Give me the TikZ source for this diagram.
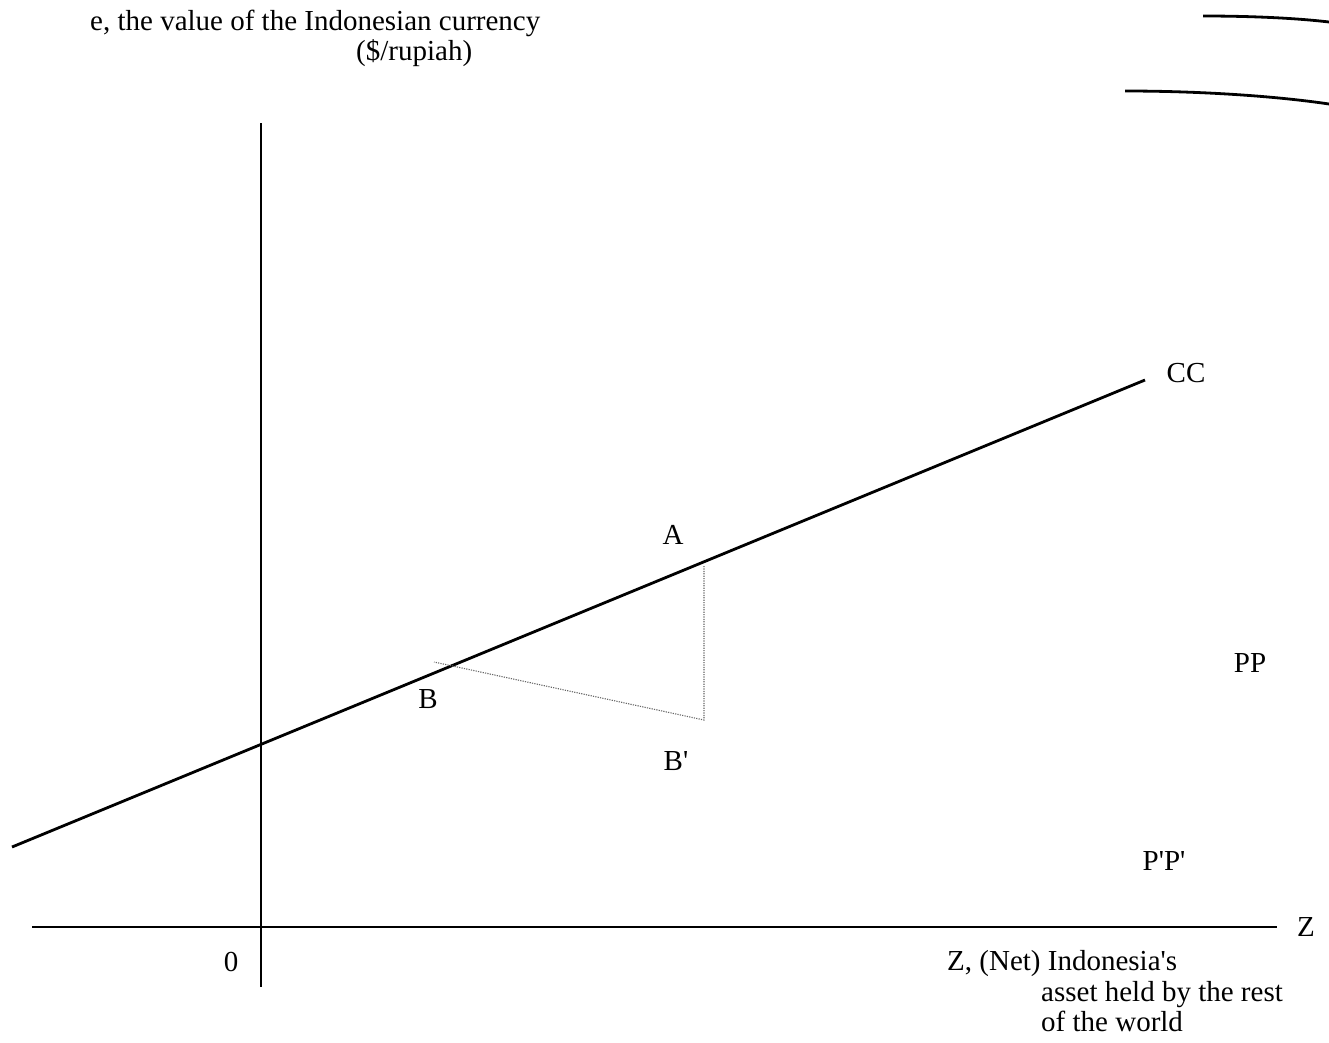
\documentclass[tikz,border=0pt]{standalone}
\usepackage{fontspec}
\setmainfont{Liberation Serif}
\newcommand{\sq}{\textquotesingle}
\begin{document}
\begin{tikzpicture}[x=1pt,y=-1pt,
  axisline/.style={line width=2.8pt},
  curveline/.style={line width=2.8pt},
  guide/.style={line width=1.1pt, gray!80!black, dash pattern=on 1.2pt off 1.2pt},
  lbl/.style={inner sep=0pt, anchor=base, font=\fontsize{29}{30}\selectfont},
  lblw/.style={inner sep=0pt, anchor=base west, font=\fontsize{29}{30}\selectfont}]
\useasboundingbox (0,0) rectangle (1329,1042);
% axes
\coordinate (ytop) at (261,123);
\coordinate (ybot) at (261,987);
\coordinate (xl) at (32,927);
\coordinate (xr) at (1277,927);
\draw[axisline] (ytop) -- (ybot);
\draw[axisline] (xl) -- (xr);
% CC line
\coordinate (cc0) at (12,847);
\coordinate (cc1) at (1145,380);
\draw[axisline] (cc0) -- (cc1);
% triangle
\coordinate (Apt) at (704,566);
\coordinate (Bp) at (704,720);
\coordinate (Bst) at (434,662);
\draw[guide] (Apt) -- (Bp) -- (Bst);
% top right curves
\coordinate (c1a) at (1203,16);
\coordinate (c1b) at (1329,22);
\coordinate (c2a) at (1125,91);
\coordinate (c2b) at (1329,104);
\draw[curveline] (c1a) .. controls (1250,16) and (1295,18) .. (c1b);
\draw[curveline] (c2a) .. controls (1200,91) and (1275,96) .. (c2b);
% labels
\node[lblw] (t1) at (90,30) {e, the value of the Indonesian currency};
\node[lblw] (t2) at (356,60) {(\$/rupiah)};
\node[lbl] (lCC) at (1186,382) {CC};
\node[lbl] (lA) at (673,544) {A};
\node[lbl] (lB) at (428,708) {B};
\node[lbl] (lBp) at (676,770) {B\sq};
\node[lbl] (lPP) at (1250,672) {PP};
\node[lbl] (lPpPp) at (1164,870) {P\sq P\sq};
\node[lbl] (lZ) at (1306,936) {Z};
\node[lbl] (l0) at (231,971) {0};
\node[lblw] (z1) at (947,970) {Z, (Net) Indonesia\sq s};
\node[lblw] (z2) at (1041,1001) {asset held by the rest};
\node[lblw] (z3) at (1041,1031) {of the world};
\end{tikzpicture}
\end{document}
